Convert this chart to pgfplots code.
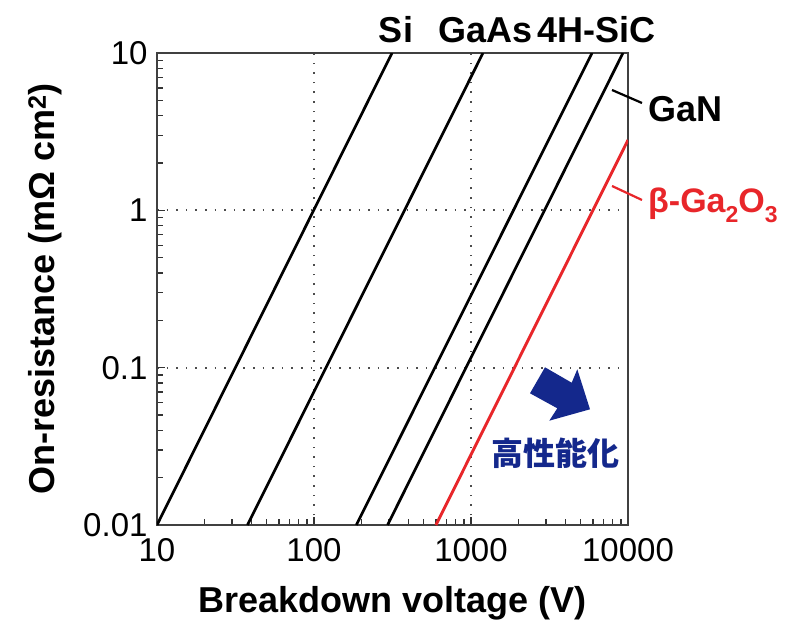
\documentclass[border=0pt]{standalone}
\usepackage{fontspec}
\setmainfont{Liberation Sans}
\newfontfamily\cjk{Noto Sans CJK JP}
\usepackage{pgfplots}
\pgfplotsset{compat=1.18}
\definecolor{gared}{RGB}{232,38,42}
\definecolor{navy}{RGB}{20,40,140}
\newcommand{\sub}[1]{\raisebox{-0.28em}{\fontsize{23}{23}\selectfont #1}}
\begin{document}
\begin{tikzpicture}
\begin{axis}[
  xmode=log, ymode=log,
  scale only axis, width=471pt, height=472pt,
  xmin=10, xmax=10000, ymin=0.01, ymax=10,
  xtick={10,100,1000,10000}, xticklabels={10,100,1000,10000},
  ytick={0.01,0.1,1,10}, yticklabels={0.01,0.1,1,10},
  minor xtick={20,30,40,50,60,70,80,90,200,300,400,500,600,700,800,900,2000,3000,4000,5000,6000,7000,8000,9000},
  minor ytick={0.02,0.03,0.04,0.05,0.06,0.07,0.08,0.09,0.2,0.3,0.4,0.5,0.6,0.7,0.8,0.9,2,3,4,5,6,7,8,9},
  tick pos=left, tick align=inside,
  major tick length=8pt, minor tick length=6pt,
  every tick/.style={line width=1.4pt, black!80},
  axis line style={line width=1.8pt, black!75},
  grid=major,
  major grid style={line width=1.8pt, black!70, dash pattern=on 1.6pt off 8pt},
  /pgf/number format/assume math mode=true,
  tick label style={font=\fontsize{33}{33}\selectfont},
  xticklabel style={yshift=-10pt},
  yticklabel style={xshift=-6pt},
  xlabel={\bfseries Breakdown voltage (V)},
  ylabel={\bfseries On-resistance (mΩ cm\textsuperscript{2})},
  label style={font=\fontsize{36}{36}\selectfont},
  xlabel style={at={(axis description cs:0.5,-0.1864)}, anchor=base},
  ylabel style={at={(axis description cs:-0.2166,0.5)}, anchor=base},
]
\addplot[black, line width=2.7pt] coordinates {(10,0.01) (314,10)};
\addplot[black, line width=2.7pt] coordinates {(37.7,0.01) (1192,10)};
\addplot[black, line width=2.7pt] coordinates {(186,0.01) (5900,10)};
\addplot[black, line width=2.7pt] coordinates {(294,0.01) (9290,10)};
\addplot[gared, line width=2.9pt] coordinates {(598,0.01) (10000,2.8)};
\coordinate (O) at (rel axis cs:0,1);
\end{axis}
\begin{scope}[shift={(O)}, x=1pt, y=-1pt, shift={(-157,-53)}]
  \node[anchor=base, font=\fontsize{36}{36}\selectfont\bfseries, inner sep=0] at (396,43) {Si};
  \node[anchor=base, font=\fontsize{36}{36}\selectfont\bfseries, inner sep=0] at (485.5,43) {GaAs};
  \node[anchor=base, font=\fontsize{36}{36}\selectfont\bfseries, inner sep=0] at (596.5,43) {4H-SiC};
  \node[anchor=base west, font=\fontsize{36}{36}\selectfont\bfseries, inner sep=0] at (648,122) {GaN};
  \draw[black, line width=2.2pt] (612,90) -- (642,103);
  \node[anchor=base west, font=\fontsize{34}{34}\selectfont\bfseries, text=gared, inner sep=0] at (648,213) {β-Ga\sub{2}O\sub{3}};
  \draw[gared, line width=2.2pt] (612,186) -- (642,200);
  \fill[navy] (545,367.3) -- (571.7,382.7) -- (577.3,369.3) -- (590,409.3) -- (549.3,420.7) -- (557.3,408.3) -- (530,393.3) -- cycle;
  \node[font=\fontsize{32}{32}\selectfont\cjk\bfseries, text=navy, inner sep=0] at (555,453) {高性能化};
  \pgfresetboundingbox
  \path (0,0) rectangle (785,619);
\end{scope}
\end{tikzpicture}
\end{document}
